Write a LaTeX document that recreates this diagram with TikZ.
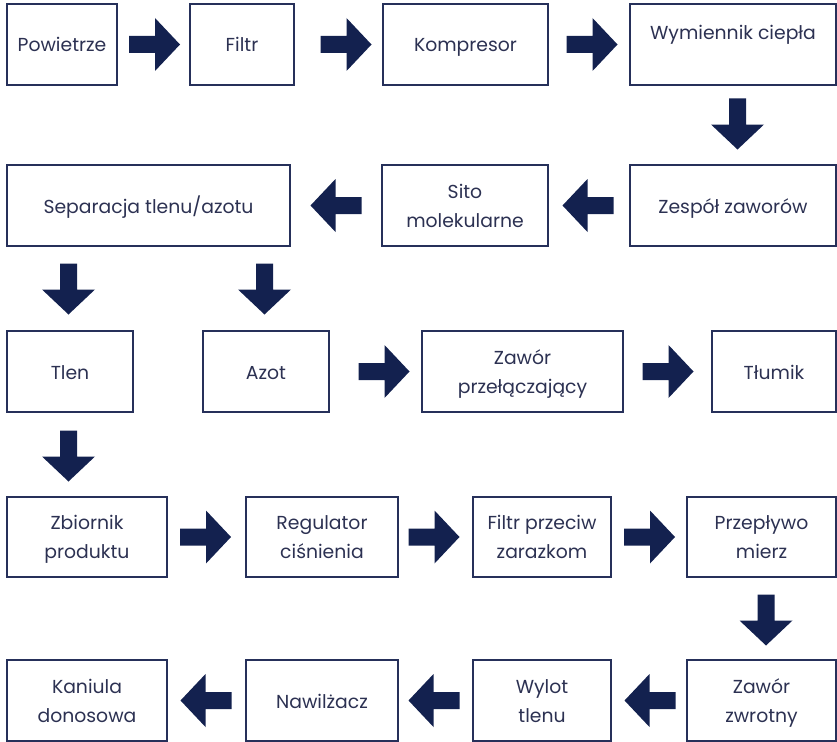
\documentclass[tikz,border=0pt]{standalone}
\usepackage{fontspec}
\setmainfont{Poppins}
\definecolor{navyfill}{HTML}{13214F}
\definecolor{boxline}{HTML}{26305A}
\definecolor{txt}{HTML}{2C3152}
\tikzset{
  box/.style={draw=boxline, line width=1.1pt, inner sep=0pt, text=txt, align=center,
    font=\fontsize{18.8}{29}\selectfont, minimum height=81pt},
  one/.style={text height=15pt, text depth=0pt},
  two/.style={text height=43pt, text depth=0pt},
  blockarrow/.pic={\fill[navyfill] (-25.5,-8.5) -- (0.5,-8.5) -- (0.5,-26.5) -- (25.5,0) -- (0.5,26.5) -- (0.5,8.5) -- (-25.5,8.5) -- cycle;}
}
\begin{document}
\begin{tikzpicture}[x=1pt,y=-1pt]
\useasboundingbox (0,0) rectangle (837,741);
% row 1
\node[box, one, minimum width=110pt] (pow) at (62,44.5) {Powietrze};
\node[box, one, minimum width=104pt] (fil) at (242,44.5) {Filtr};
\node[box, one, minimum width=165pt] (kom) at (465.5,44.5) {Kompresor};
\node[box, minimum width=206pt, text height=4pt, text depth=13pt] (wym) at (733,44.5) {Wymiennik ciepła};
% row 2
\node[box, one, minimum width=283pt] (sep) at (148.5,205.5) {Separacja tlenu/azotu};
\node[box, two, minimum width=166pt] (sit) at (465,205.5) {Sito\\molekularne};
\node[box, one, minimum width=206pt] (zes) at (733,205.5) {Zespół zaworów};
% row 3
\node[box, one, minimum width=126pt] (tle) at (70,371.5) {Tlen};
\node[box, one, minimum width=126pt] (azo) at (266,371.5) {Azot};
\node[box, two, minimum width=201pt] (zpr) at (522.5,371.5) {Zawór\\przełączający};
\node[box, one, minimum width=124pt] (tlu) at (774,371.5) {Tłumik};
% row 4
\node[box, two, minimum width=160pt, minimum height=80pt] (zbi) at (87,537) {Zbiornik\\produktu};
\node[box, two, minimum width=152pt, minimum height=80pt] (reg) at (322,537) {Regulator\\ciśnienia};
\node[box, two, minimum width=138pt, minimum height=80pt] (fpz) at (542,537) {Filtr przeciw\\zarazkom};
\node[box, two, minimum width=149pt, minimum height=80pt] (prz) at (761.5,537) {Przepływo\\mierz};
% row 5
\node[box, two, minimum width=160pt] (kan) at (87,700.5) {Kaniula\\donosowa};
\node[box, one, minimum width=152pt] (naw) at (322,700.5) {Nawilżacz};
\node[box, two, minimum width=138pt] (wyl) at (542,700.5) {Wylot\\tlenu};
\node[box, two, minimum width=149pt] (zzw) at (761.5,700.5) {Zawór\\zwrotny};
% arrows
\pic at (154.5,44.5) {blockarrow};
\pic at (346,44.5) {blockarrow};
\pic at (592,44.5) {blockarrow};
\pic[rotate=-90] at (737.5,124) {blockarrow};
\pic[rotate=180] at (588,205.5) {blockarrow};
\pic[rotate=180] at (336,205.5) {blockarrow};
\pic[rotate=-90] at (68.5,289) {blockarrow};
\pic[rotate=-90] at (264.5,289) {blockarrow};
\pic at (384,371.5) {blockarrow};
\pic at (668,371.5) {blockarrow};
\pic[rotate=-90] at (68.5,456) {blockarrow};
\pic at (205.5,537) {blockarrow};
\pic at (434,537) {blockarrow};
\pic at (649.5,537) {blockarrow};
\pic[rotate=-90] at (766,620) {blockarrow};
\pic[rotate=180] at (650,700.5) {blockarrow};
\pic[rotate=180] at (434,700.5) {blockarrow};
\pic[rotate=180] at (206,700.5) {blockarrow};
\end{tikzpicture}
\end{document}
